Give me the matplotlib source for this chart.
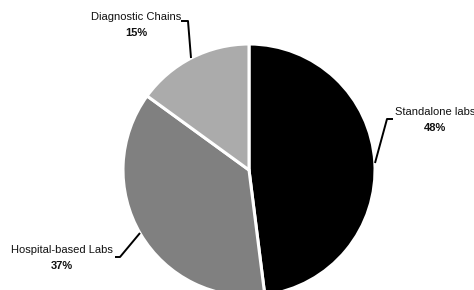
import matplotlib
matplotlib.use("Agg")
import matplotlib.pyplot as plt

# Segment shares (%)
labels = ["Standalone labs", "Hospital-based Labs", "Diagnostic Chains"]
shares = [48, 37, 15]
colors = ["#000000", "#808080", "#ababab"]

plt.rcParams['font.family'] = ['Liberation Sans', 'DejaVu Sans']

fig = plt.figure(figsize=(4.74, 2.90), dpi=100)
ax = fig.add_axes([0, 0, 1, 1])

ax.pie(shares, colors=colors, startangle=90, counterclock=False,
       center=(249, 120), radius=126, explode=[0.02, 0, 0],
       wedgeprops=dict(edgecolor='white', linewidth=2.2), frame=True)
ax.set_xlim(0, 474)
ax.set_ylim(0, 290)
ax.set_aspect('equal')
ax.axis('off')

# label positions (text centre, leader polyline) in pixel coords, y up
label_pos = [(435, 178), (62, 40), (136, 273)]
leaders = [
    [(393, 171), (387, 171), (375, 127)],
    [(115, 33), (120, 33), (140, 57)],
    [(181, 269), (188, 269), (191, 232)],
]

for lab, val, (x, y), pts in zip(labels, shares, label_pos, leaders):
    ax.text(x, y, lab, ha='center', va='center', fontsize=8, color='#111111')
    ax.text(x, y - 16, f"{val}%", ha='center', va='center', fontsize=8,
            fontweight='bold', color='#111111')
    xs, ys = zip(*pts)
    ax.plot(xs, ys, color='black', lw=1.4, solid_capstyle='butt')

fig.savefig("out.png", dpi=100)
